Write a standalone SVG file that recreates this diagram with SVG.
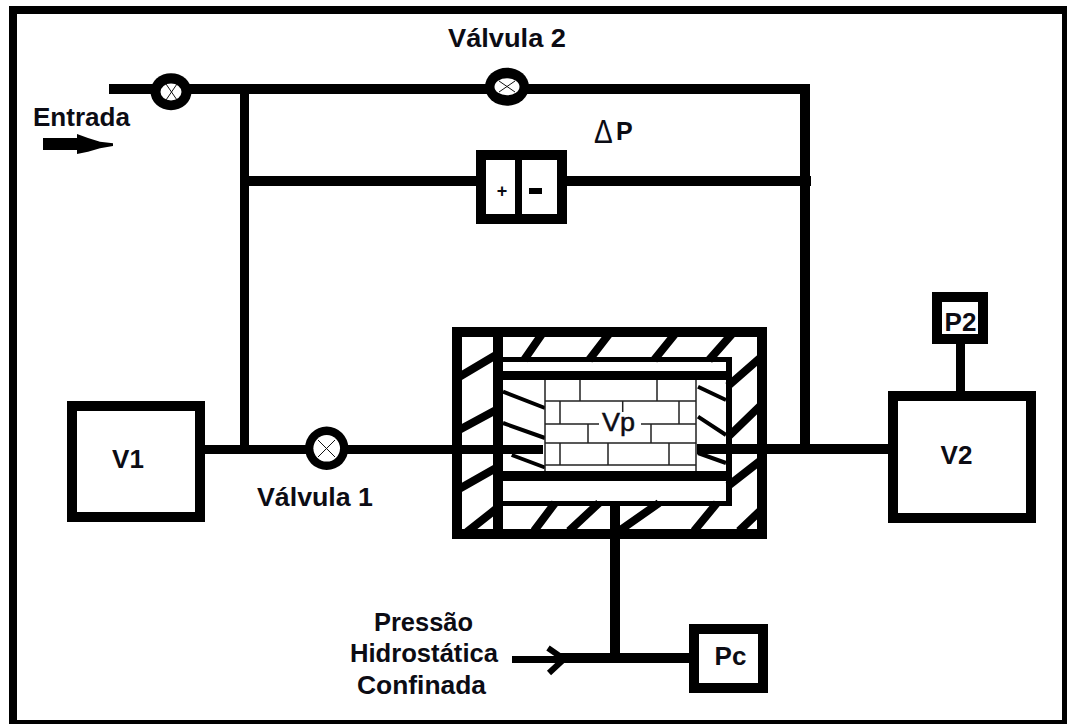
<svg xmlns="http://www.w3.org/2000/svg" width="1067" height="724" viewBox="0 0 1067 724">
<style>
.pipe{fill:#000}
.box{fill:#fff;stroke:#000;stroke-width:10}
.h{stroke:#000;stroke-width:8;fill:none}
.i{stroke:#000;stroke-width:4;fill:none}
.b{stroke:#222;stroke-width:1.5;fill:none}
.vo{fill:#000}
.vi{fill:#fff}
.vx{stroke:#111;stroke-width:1;fill:none}
text{font-family:"Liberation Sans",Arial,sans-serif;fill:#0c0c14}
.t{font-weight:bold;font-size:25px}
.n{font-weight:bold;font-size:26px;text-anchor:middle}
</style>
<rect width="1067" height="724" fill="#fff"/>
<g id="frame" fill="#000">
<rect x="9" y="6" width="1058" height="8"/>
<rect x="9" y="6" width="8" height="718"/>
<rect x="1062" y="6" width="5" height="718"/>
<rect x="9" y="720" width="1058" height="4"/>
</g>
<g id="connectors" class="pipe">
<rect x="109" y="84" width="701" height="10"/>
<rect x="800" y="84" width="10" height="370"/>
<rect x="240" y="94" width="9" height="360"/>
<rect x="240" y="176" width="571" height="10"/>
<rect x="200" y="445" width="343" height="9"/>
<rect x="697" y="444" width="195" height="10"/>
<rect x="956" y="340" width="9" height="55"/>
<rect x="610" y="506" width="10" height="150"/>
<rect x="512" y="656" width="60" height="7"/>
<rect x="560" y="653" width="135" height="10"/>
<path d="M548 648L564 659L549 673" fill="none" stroke="#000" stroke-width="6"/>
<polygon id="entrada-arrow" points="43,138 77,138 77,134 88,138 100,141.7 113,143.3 113,146 100,148.3 88,151.7 77,154 77,150 43,150"/>
</g>
<g id="cell">
<g class="h">
<path d="M524 360L542 334M589 360L609 334M654 360L675 334M709 360L732 334"/>
<path d="M728 386L760 358M728 437L760 406M728 486L760 461M739 531L760 511"/>
<path d="M534 531L555 503M569 531L599 503M619 531L659 503M694 531L717 503M467 532L496 509"/>
<path d="M459 377L496 355M459 430L496 410M459 489L496 468"/>
</g>
<g class="i">
<path d="M503 391.7L545 408M503 423L545 438M511.7 455L545 467.5"/>
<path d="M698 386.7L726 400M698 416.7L726 435M698 453L726 463"/>
</g>
<rect x="457" y="332" width="305" height="202" fill="none" stroke="#000" stroke-width="10"/>
<g fill="#000">
<rect x="493" y="337" width="10" height="192"/>
<rect x="726" y="357" width="6" height="149"/>
<rect x="503" y="357" width="229" height="5"/>
<rect x="503" y="371" width="223" height="9"/>
<rect x="503" y="471" width="229" height="10"/>
<rect x="503" y="501" width="229" height="5"/>
</g>
<rect x="545" y="380" width="151" height="91" fill="#fff"/>
<path class="b" d="M545 380V471M696 380V471M545 401H696M545 424H599M641 424H696M545 443H696M545 465H696M580 380V401M657 380V401M560 401V424M622.7 401V412M679 401V424M588 424V443M651 424V443M560 443V465M608 443V465M669 443V465"/>
<text x="602" y="431" font-size="26" stroke="#0c0c14" stroke-width=".5" textLength="33" lengthAdjust="spacingAndGlyphs">Vp</text>
</g>
<g id="v1"><rect class="box" x="72" y="406" width="128" height="111"/><text class="n" x="128" y="468">V1</text></g>
<g id="v2"><rect class="box" x="893" y="396" width="138" height="122"/><text class="n" x="956.500" y="464">V2</text></g>
<g id="p2"><rect class="box" x="937" y="297" width="46" height="42"/><text class="n" x="960.500" y="331">P2</text></g>
<g id="pc"><rect class="box" x="694" y="629" width="69" height="59"/><text class="n" x="730.500" y="665">Pc</text></g>
<g id="valve-entrada"><ellipse class="vo" cx="171" cy="91.700" rx="20.500" ry="18.500"/><ellipse class="vi" cx="171" cy="92" rx="10.500" ry="8.500"/><path class="vx" d="M166 84L177 100M177 84L166 100"/></g>
<g id="valve-2"><ellipse class="vo" cx="507" cy="86.700" rx="22" ry="19"/><ellipse class="vi" cx="507" cy="86.700" rx="12.500" ry="8.500"/><path class="vx" d="M499 81L515 92M515 81L499 92"/><text class="t" x="448" y="47" textLength="118" lengthAdjust="spacingAndGlyphs">Válvula 2</text></g>
<g id="valve-1"><circle class="vo" cx="326.700" cy="448.300" r="21.700"/><circle class="vi" cx="326.700" cy="448.300" r="13.300"/><path class="vx" d="M318 440L335 457M335 440L318 457"/><text class="t" x="257" y="506" textLength="116" lengthAdjust="spacingAndGlyphs">Válvula 1</text></g>
<g id="delta-p">
<rect class="box" x="481" y="155" width="81" height="64"/>
<rect x="515" y="155" width="7" height="64" fill="#000"/>
<rect x="529" y="188" width="13" height="6" fill="#000"/>
<text x="502" y="197" font-size="18" font-weight="bold" text-anchor="middle">+</text>
<text transform="translate(594 143) scale(.85 1.02)" font-size="33">Δ</text>
<text x="616" y="140" font-size="25" font-weight="bold">P</text>
</g>
<g id="labels">
<text class="t" x="33" y="126" textLength="97" lengthAdjust="spacingAndGlyphs">Entrada</text>
<text class="t" x="374" y="631" textLength="99" lengthAdjust="spacingAndGlyphs">Pressão</text>
<text class="t" x="350" y="662" textLength="148" lengthAdjust="spacingAndGlyphs">Hidrostática</text>
<text class="t" x="357" y="694" textLength="129" lengthAdjust="spacingAndGlyphs">Confinada</text>
</g>
</svg>
